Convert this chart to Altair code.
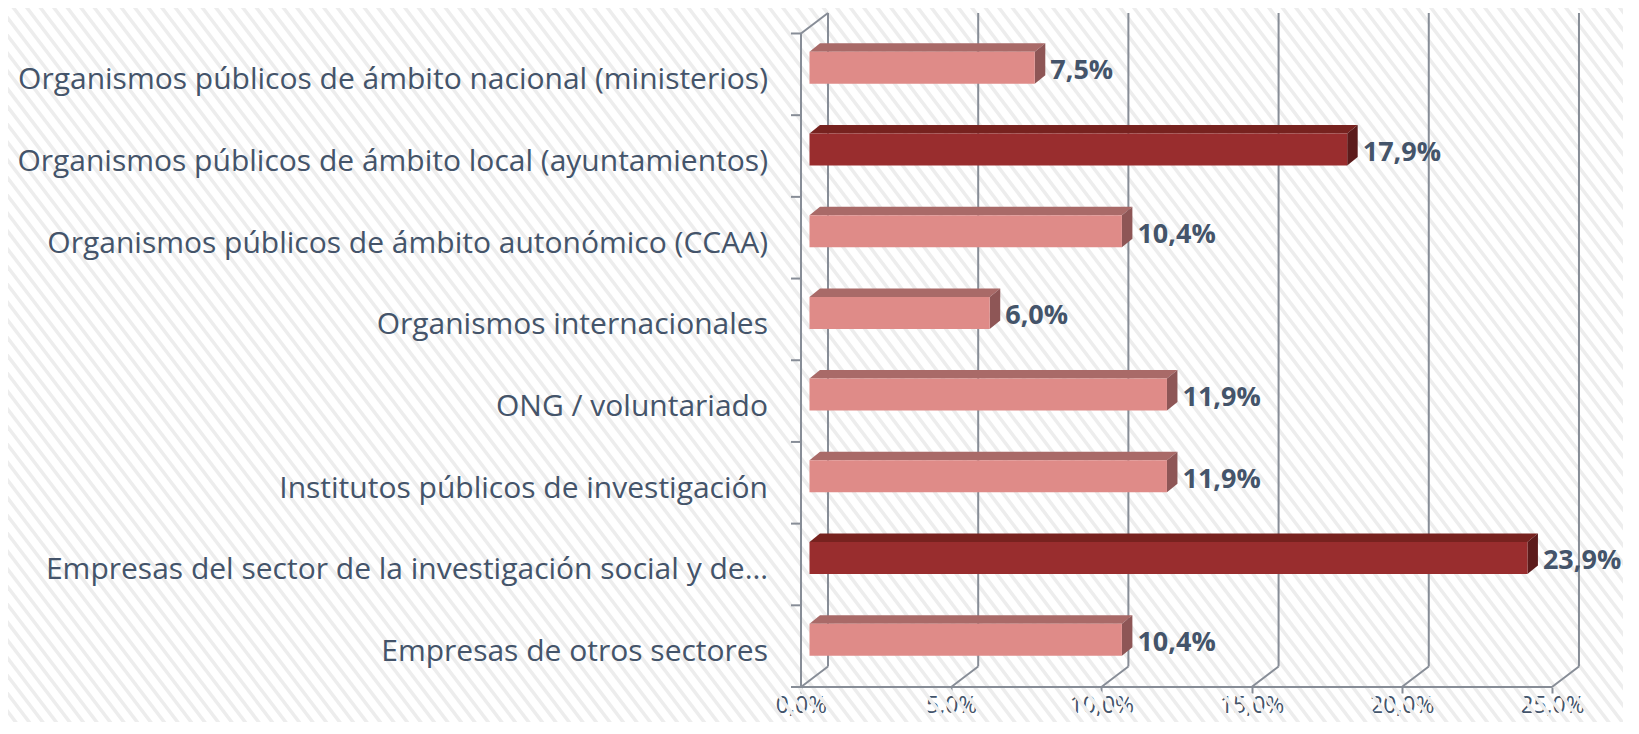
import altair as alt
import pandas as pd

# ---------------- data ----------------
categorias = [
    "Organismos públicos de ámbito nacional (ministerios)",
    "Organismos públicos de ámbito local (ayuntamientos)",
    "Organismos públicos de ámbito autonómico (CCAA)",
    "Organismos internacionales",
    "ONG / voluntariado",
    "Institutos públicos de investigación",
    "Empresas del sector de la investigación social y de…",
    "Empresas de otros sectores",
]
valores = [7.5, 17.9, 10.4, 6.0, 11.9, 11.9, 23.9, 10.4]
destacado = [False, True, False, False, False, False, True, False]
ticks_x = [0, 5, 10, 15, 20, 25]

# ---------------- styling / geometry ----------------
FONT = "Open Sans"
TEXT = "#44546A"
AXIS = "#878D97"
LIGHT = {"front": "#DF8B88", "top": "#A96A68", "side": "#8E5656"}
DARK = {"front": "#992D2E", "top": "#77221F", "side": "#5C1B1B"}

W, H = 778, 675
XMAX, YMAX = 25.9, 8.263
PXX, PXY = W / XMAX, H / YMAX
DX, DY = 27 / PXX, 20.5 / PXY          # wall depth
BX = 8.5 / PXX                          # bar offset from front plane
BH = 16 / PXY                           # half height of bar front face
BC = 6.5 / PXY                          # bar centre raised
BDX, BDY = 10.5 / PXX, 8.5 / PXY        # bar depth
n = len(categorias)

front_rows, top_rows, side_rows, lab_rows, cat_rows = [], [], [], [], []
for i, (cat, v, hi) in enumerate(zip(categorias, valores, destacado)):
    pal = DARK if hi else LIGHT
    c = n - i - 0.5
    x0, x1 = BX, BX + v
    yb, yt = c + BC - BH, c + BC + BH
    front_rows.append(dict(x=x0, x2=x1, y=yb, y2=yt, col=pal["front"]))
    for px, py, py2 in [(x0, yt, yt), (x0 + BDX, yt, yt + BDY),
                        (x1, yt, yt + BDY), (x1 + BDX, yt + BDY, yt + BDY)]:
        top_rows.append(dict(id=i, x=px, y=py, y2=py2, col=pal["top"]))
    for px, py, py2 in [(x1, yb, yt), (x1 + BDX, yb + BDY, yt + BDY)]:
        side_rows.append(dict(id=i, x=px, y=py, y2=py2, col=pal["side"]))
    lab_rows.append(dict(x=x1 + BDX, y=c + BC - 3.5 / PXY,
                         t=f"{v:.1f}".replace(".", ",") + "%"))
    cat_rows.append(dict(y=c, t=cat))

seg = []
for g in ticks_x:
    seg.append(dict(x=g + DX, x2=g + DX, y=DY, y2=n + DY))   # back wall gridline
    seg.append(dict(x=g, x2=g + DX, y=0, y2=DY))             # floor diagonal
seg.append(dict(x=0, x2=ticks_x[-1], y=0, y2=0))             # front baseline
seg.append(dict(x=0, x2=0, y=0, y2=n))                        # front left axis
seg.append(dict(x=0, x2=DX, y=n, y2=n + DY))                  # top-left diagonal
for k in range(n + 1):
    seg.append(dict(x=-10 / PXX, x2=0, y=k, y2=k))            # y ticks

front_df = pd.DataFrame(front_rows)
top_df = pd.DataFrame(top_rows)
side_df = pd.DataFrame(side_rows)
lab_df = pd.DataFrame(lab_rows)
cat_df = pd.DataFrame(cat_rows)
seg_df = pd.DataFrame(seg)

xs = alt.Scale(domain=[0, XMAX], nice=False, zero=False)
ys = alt.Scale(domain=[0, YMAX], nice=False, zero=False)
xaxis = alt.Axis(values=ticks_x, title=None, domain=False, grid=False,
                 tickSize=6, tickColor=AXIS, tickWidth=2,
                 labelExpr="replace(format(datum.value, '.1f'), '.', ',') + '%'",
                 labelFont=FONT, labelFontSize=23, labelColor=TEXT,
                 labelPadding=1, labelFlush=False)


def X(f):
    return alt.X(f, scale=xs, axis=xaxis)


def Y(f):
    return alt.Y(f, scale=ys, axis=None, stack=None)


segments = alt.Chart(seg_df).mark_rule(color=AXIS, strokeWidth=2).encode(
    x=X("x:Q"), x2="x2:Q", y=Y("y:Q"), y2="y2:Q")

top = alt.Chart(top_df).mark_area(interpolate="linear").encode(
    x=X("x:Q"), y=Y("y:Q"), y2="y2:Q", detail="id:N",
    color=alt.Color("col:N", scale=None))

side = alt.Chart(side_df).mark_area(interpolate="linear").encode(
    x=X("x:Q"), y=Y("y:Q"), y2="y2:Q", detail="id:N",
    color=alt.Color("col:N", scale=None))

front = alt.Chart(front_df).mark_rect().encode(
    x=X("x:Q"), x2="x2:Q", y=Y("y:Q"), y2="y2:Q",
    color=alt.Color("col:N", scale=None))

labels = alt.Chart(lab_df).mark_text(
    align="left", baseline="middle", dx=5, font=FONT, fontSize=27,
    fontWeight="bold", color=TEXT).encode(x=X("x:Q"), y=Y("y:Q"), text="t:N")

cats = alt.Chart(cat_df).mark_text(
    align="right", baseline="middle", dy=6, font=FONT, fontSize=30,
    color=TEXT).encode(x=alt.value(-33), y=Y("y:Q"), text="t:N")

main = alt.layer(segments, top, side, front, labels, cats)

hatch = alt.Chart(alt.sequence(0, 170, 1, as_="k")).transform_calculate(
    hx="-1380 + datum.k * 13.5", hy="-20",
    hx2="-1380 + datum.k * 13.5 + 750 / 1.3", hy2="740",
).mark_rule(color="#EDEDED", strokeWidth=3.5).encode(
    x=alt.X("hx:Q", scale=None, axis=None), x2="hx2:Q",
    y=alt.Y("hy:Q", scale=None, axis=None), y2="hy2:Q")

chart = alt.layer(hatch, main).resolve_scale(
    x="independent", y="independent"
).properties(
    width=W, height=H,
    autosize=alt.AutoSizeParams(type="none"),
    padding={"left": 793, "top": 4, "right": 44, "bottom": 35},
    background="white",
).configure_view(stroke=None)

chart.save("out.html", embed_options={"renderer": "svg", "actions": False})
